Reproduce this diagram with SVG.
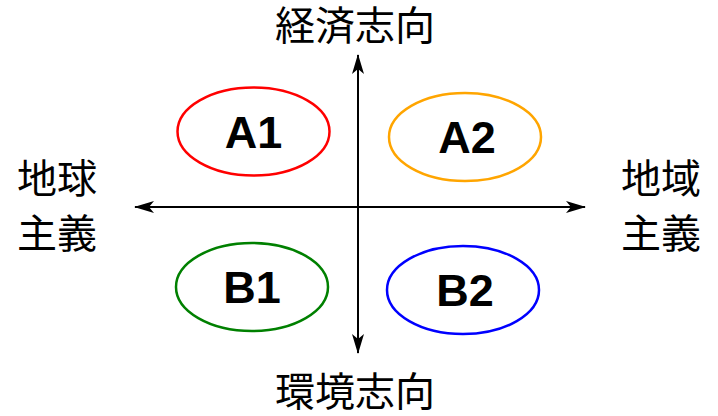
<svg xmlns="http://www.w3.org/2000/svg" width="718" height="416" viewBox="0 0 718 416">
<defs>
<marker id="ah" viewBox="0 0 20 12" refX="19" refY="6" markerWidth="20" markerHeight="12" markerUnits="userSpaceOnUse" orient="auto">
<path d="M0,0 L20,6 L0,12 L5,6 Z" fill="#000"/>
</marker>
<style>
.ax{stroke:#000;stroke-width:2;fill:none}
.lab{font-family:"Liberation Sans","Noto Sans CJK JP",sans-serif;font-size:40px;fill:#000}
.el{fill:none;stroke-width:2.5}
.nt{font-family:"Liberation Sans",Arial,sans-serif;font-size:45px;font-weight:bold;fill:#000;text-anchor:middle}
</style>
</defs>
<rect width="718" height="416" fill="#fff"/>
<g id="connectors">
<line class="ax" x1="358" y1="207" x2="358" y2="55" marker-end="url(#ah)"/>
<line class="ax" x1="358" y1="207" x2="358" y2="353" marker-end="url(#ah)"/>
<line class="ax" x1="358" y1="207" x2="135" y2="207" marker-end="url(#ah)"/>
<line class="ax" x1="358" y1="207" x2="585" y2="207" marker-end="url(#ah)"/>
</g>
<g id="top"><text class="lab" x="275" y="40">経済志向</text></g>
<g id="bottom"><text class="lab" x="275" y="406">環境志向</text></g>
<g id="left"><text class="lab" x="17" y="193">地球</text><text class="lab" x="17" y="248">主義</text></g>
<g id="right"><text class="lab" x="621" y="193">地域</text><text class="lab" x="621" y="248">主義</text></g>
<g id="A1"><ellipse class="el" cx="253.5" cy="131.5" rx="76" ry="44" stroke="#ff0000"/><text class="nt" x="253.5" y="148">A1</text></g>
<g id="A2"><ellipse class="el" cx="465" cy="137" rx="76" ry="44" stroke="#ffa500"/><text class="nt" x="467" y="153">A2</text></g>
<g id="B1"><ellipse class="el" cx="252" cy="287" rx="76" ry="44" stroke="#008000"/><text class="nt" x="252" y="303">B1</text></g>
<g id="B2"><ellipse class="el" cx="463" cy="290" rx="76" ry="44" stroke="#0000ff"/><text class="nt" x="465" y="306">B2</text></g>
</svg>
